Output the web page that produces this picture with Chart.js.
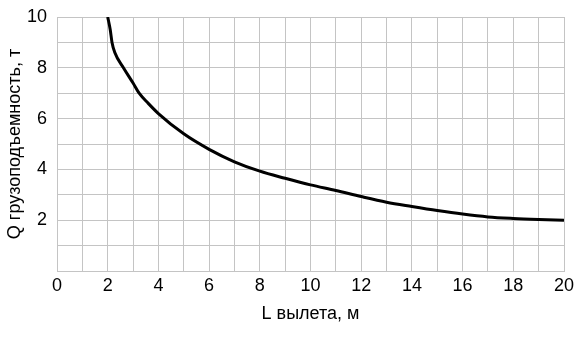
<!DOCTYPE html>
<html>
<head>
<meta charset="utf-8">
<script src="https://cdn.jsdelivr.net/npm/chart.js@4/dist/chart.umd.min.js"></script>
<style>
    html, body { margin: 0; padding: 0; background: #fff; }
    #wrap { width: 588px; height: 337px; }
</style>
</head>
<body>
<div id="wrap"><canvas id="chart"></canvas></div>
<script>
// вылет, м
const reach = [2, 2.1, 2.17, 2.28, 2.62, 3, 3.24, 3.6, 4, 5, 6, 7, 8, 9, 10, 11, 12, 13, 14, 15, 16, 17, 18, 19, 20];
// грузоподъемность, т
const capacity = [10, 9.5, 9.0, 8.6, 8.0, 7.4, 7.0, 6.6, 6.2, 5.4, 4.79, 4.3, 3.93, 3.65, 3.39, 3.17, 2.93, 2.71, 2.54, 2.38, 2.24, 2.13, 2.07, 2.03, 2.0];

const xTicks = [0, 2, 4, 6, 8, 10, 12, 14, 16, 18, 20];
const yTicks = [2, 4, 6, 8, 10];

const font = { family: "'Liberation Sans', Arial, sans-serif", size: 18 };
const gridColor = "#c4c4c4";

const points = reach.map((x, i) => ({ x: x, y: capacity[i] }));

new Chart(document.getElementById("chart"), {
    type: "scatter",
    data: {
        datasets: [
            {
                data: points,
                showLine: true,
                borderColor: "#000",
                borderWidth: 3,
                pointRadius: 0,
                cubicInterpolationMode: "monotone",
            },
        ],
    },
    options: {
        responsive: true,
        maintainAspectRatio: false,
        animation: false,
        layout: { padding: { top: 17, right: 24, bottom: 0, left: 0 } },
        plugins: {
            legend: { display: false },
            tooltip: { enabled: false },
        },
        scales: {
            x: {
                type: "linear",
                min: 0,
                max: 20,
                afterFit: (s) => { s.height = 66; },
                grid: { color: gridColor, drawTicks: false },
                border: { color: gridColor },
                ticks: {
                    stepSize: 1,
                    padding: 4,
                    color: "#000",
                    font: font,
                    maxRotation: 0,
                    autoSkip: false,
                    callback: (v) => (xTicks.includes(v) ? String(v) : ""),
                },
                title: {
                    display: true,
                    text: "L вылета, м",
                    color: "#000",
                    font: font,
                    padding: { top: 0, bottom: 12 },
                },
            },
            y: {
                min: 0,
                max: 10,
                afterFit: (s) => {
                    s.width = 57;
                    s.paddingTop = 0;
                    s.paddingBottom = 0;
                },
                grid: { color: gridColor, drawTicks: false },
                border: { color: gridColor },
                ticks: {
                    stepSize: 1,
                    padding: 10,
                    color: "#000",
                    font: font,
                    autoSkip: false,
                    callback: (v) => (yTicks.includes(v) ? String(v) : ""),
                },
                title: {
                    display: true,
                    text: "Q грузоподъемность, т",
                    color: "#000",
                    font: font,
                    padding: { top: 4, bottom: 0 },
                },
            },
        },
    },
});
</script>
</body>
</html>
